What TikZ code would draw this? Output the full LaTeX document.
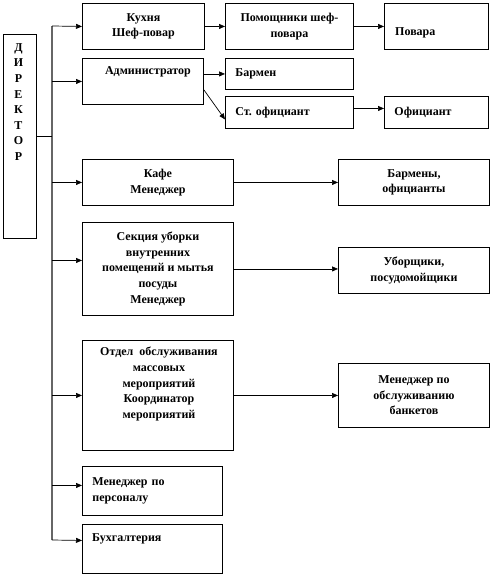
\documentclass[tikz,border=0pt]{standalone}
\usepackage{fontspec}
\setmainfont{Liberation Serif}
\usetikzlibrary{arrows.meta,positioning,calc}

\tikzset{
  box/.style={draw, line width=0.9pt, inner sep=0pt, align=center, anchor=north west},
  lbox/.style={box, align=left, inner xsep=10pt},
  txt/.style={inner sep=0pt, align=center},
  arr/.style={-{Triangle[length=6pt,width=5pt]}, line width=0.7pt},
}

\begin{document}
\begin{tikzpicture}[x=1pt, y=-1pt, font=\fontsize{12}{15.6}\selectfont\bfseries]
  \useasboundingbox (0,0) rectangle (491,577);
  % director
  \node[box, minimum width=33pt, minimum height=204pt] (dir) at (3,34) {};
  \node[txt] (dir-t) at ($(dir.north)+(-1.5,68)$) {Д\\И\\Р\\Е\\К\\Т\\О\\Р};
  % kitchen row
  \node[box, minimum width=122pt, minimum height=46pt] (kitchen) at (82,3) {Кухня\\Шеф-повар};
  \node[box, minimum width=128pt, minimum height=46pt] (asst) at (225,3) {Помощники шеф-\\повара};
  \node[box, minimum width=104pt, minimum height=46pt] (cooks) at (384,3) {};
  \node[txt, anchor=west] (cooks-t) at ($(cooks.west)+(11,6)$) {Повара};
  % administrator
  \node[box, minimum width=121pt, minimum height=46pt] (admin) at (82,58) {};
  \node[txt] (admin-t) at ($(admin.north)+(5,14)$) {Администратор};
  \node[lbox, text width=108pt, minimum height=31pt] (barman) at (225,58) {Бармен};
  \node[lbox, text width=108pt, minimum height=32pt] (senwait) at (225,96) {Ст.\ официант};
  \node[lbox, text width=84pt, minimum height=32pt] (waiter) at (384,96) {Официант};
  % cafe, cleaning, events
  \node[box, minimum width=151pt, minimum height=46pt] (cafe) at (82,159) {Кафе\\Менеджер};
  \node[box, minimum width=151pt, minimum height=46pt] (cafestaff) at (338,159) {Бармены,\\официанты};
  \node[box, minimum width=151pt, minimum height=93pt] (clean) at (82,222)
      {Секция уборки\\внутренних\\помещений и мытья\\посуды\\Менеджер};
  \node[box, minimum width=151pt, minimum height=46pt] (cleaners) at (338,247) {Уборщики,\\посудомойщики};
  \node[box, minimum width=151pt, minimum height=110pt] (events) at (82,340) {};
  \node[txt] (events-t) at ($(events.north)+(1,44)$)
      {Отдел~ обслуживания\\массовых\\мероприятий\\Координатор\\мероприятий};
  \node[box, minimum width=151pt, minimum height=64pt] (banquet) at (338,363) {Менеджер по\\обслуживанию\\банкетов};
  % staff, accounting
  \node[lbox, text width=120pt, minimum height=49pt] (hr) at (82,466) {Менеджер по\\персоналу};
  \node[box, minimum width=140pt, minimum height=49pt] (acct) at (82,524) {};
  \node[txt, anchor=west] (acct-t) at ($(acct.north west)+(10,15)$) {Бухгалтерия};

  % trunk
  \coordinate (trunktop) at (52,26);
  \coordinate (trunkbot) at (52,540);
  \draw[black!60, line width=1.1pt] (trunktop) -- (trunkbot);
  \draw[line width=0.7pt] (dir.east) -- (dir.east -| trunktop);
  \draw[arr] (trunktop) -- (kitchen.west);
  \draw[arr] (trunktop |- admin.west) -- (admin.west);
  \draw[arr] (trunktop |- cafe.west) -- (cafe.west);
  \draw[arr] ($(trunktop |- clean.west)+(0,-8.5)$) -- ($(clean.west)+(0,-8.5)$);
  \draw[arr] (trunktop |- events.west) -- (events.west);
  \draw[arr] ($(trunktop |- hr.west)+(0,-5.5)$) -- ($(hr.west)+(0,-5.5)$);
  \draw[arr] (trunkbot) -- ($(acct.west)+(0,-8.5)$);

  % branches
  \draw[arr] (kitchen.east) -- (asst.west);
  \draw[arr] (asst.east) -- (cooks.west);
  \draw[arr] (admin.east |- barman.west) -- (barman.west);
  \draw[arr] ($(admin.south east)+(0,-15)$) -- ($(senwait.west)+(0,7)$);
  \draw[arr] ($(senwait.east)+(0,-4)$) -- ($(waiter.west)+(0,-4)$);
  \draw[arr] (cafe.east) -- (cafestaff.west);
  \draw[arr] (clean.east) -- (clean.east -| cleaners.west);
  \draw[arr] (events.east) -- (banquet.west);
\end{tikzpicture}
\end{document}
